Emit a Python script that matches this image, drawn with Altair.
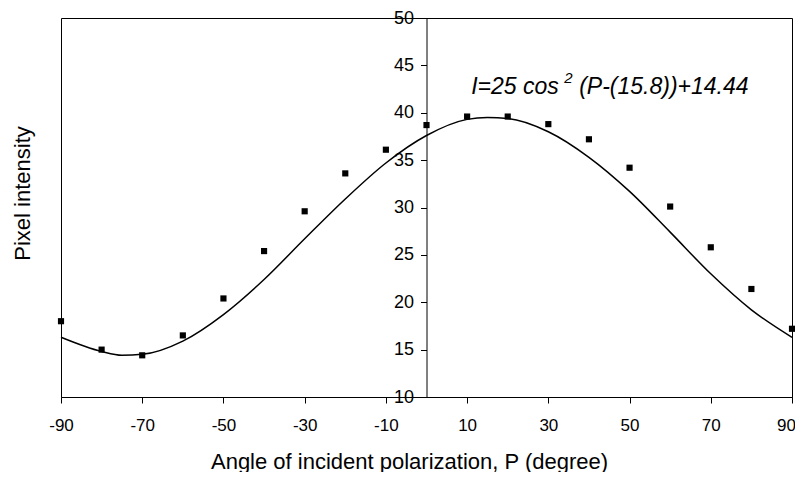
import altair as alt
import pandas as pd

# measured points (angle, pixel intensity)
angles = [-90, -80, -70, -60, -50, -40, -30, -20, -10, 0, 10, 20, 30, 40, 50, 60, 70, 80, 90]
intensity = [18.0, 15.0, 14.4, 16.5, 20.4, 25.4, 29.6, 33.6, 36.1, 38.7, 39.6, 39.6, 38.8, 37.2, 34.2, 30.1, 25.8, 21.4, 17.2]

# fitted curve
fit_angles = [-90, -80, -75, -70, -60, -50, -40, -30, -20, -10, 0, 10, 15, 20, 30, 40, 50, 60, 70, 80, 90]
fit_values = [16.3, 14.8, 14.4, 14.5, 15.9, 18.7, 22.4, 26.7, 30.9, 34.7, 37.6, 39.3, 39.5, 39.4, 38.0, 35.3, 31.7, 27.4, 23.0, 19.2, 16.3]

x_ticks = [-90, -70, -50, -30, -10, 10, 30, 50, 70, 90]
y_ticks = [10, 15, 20, 25, 30, 35, 40, 45, 50]

eq_parts = ["I=25 cos", "2", "(P-(15.8))+14.44"]
eq_x, eq_y = 11, 41.95

pts = pd.DataFrame({"P": angles, "I": intensity})
fit = pd.DataFrame({"P": fit_angles, "I": fit_values})

FONT = "Liberation Sans"

xscale = alt.Scale(domain=[-90, 90], nice=False, zero=False)
yscale = alt.Scale(domain=[10, 50], nice=False, zero=False)

xaxis = alt.Axis(
    values=x_ticks, title="Angle of incident polarization, P (degree)",
    labelExpr="'' + datum.value",
    labelOffset={"condition": {"test": "datum.value == 90", "value": -6}, "value": 0},
    grid=False, tickSize=6, labelFontSize=17, labelPadding=14, labelFlush=False,
    labelBound=False,
    titleFontSize=22, titleFontWeight="normal", titleX=348, titleY=71,
    titleBaseline="alphabetic", titleAlign="center",
    domainColor="black", tickColor="black", labelColor="black", titleColor="black",
    labelFont=FONT, titleFont=FONT,
)
yaxis = alt.Axis(
    values=y_ticks, title="Pixel intensity", orient="left", offset=-365.5,
    labelExpr="'' + datum.value",
    grid=False, tickSize=6, labelFontSize=18, labelPadding=7, labelFlush=False,
    titleFontSize=22, titleFontWeight="normal", titleX=-404, titleY=175,
    titleAngle=270, titleBaseline="middle", titleAlign="center",
    domainColor="black", tickColor="black", labelColor="black", titleColor="black",
    labelFont=FONT, titleFont=FONT,
)

line = alt.Chart(fit).mark_line(color="black", strokeWidth=1.5, interpolate="monotone").encode(
    x=alt.X("P:Q", scale=xscale, axis=xaxis),
    y=alt.Y("I:Q", scale=yscale, axis=yaxis),
)
points = alt.Chart(pts).mark_point(shape="square", filled=True, color="black", size=38, opacity=1).encode(
    x=alt.X("P:Q", scale=xscale),
    y=alt.Y("I:Q", scale=yscale),
)

def eq_text(part, size, dx, dy):
    return alt.Chart(pd.DataFrame({"t": [part]})).mark_text(
        align="left", baseline="alphabetic", fontSize=size, fontStyle="italic",
        font=FONT, color="black", dx=dx, dy=dy
    ).encode(x=alt.datum(eq_x), y=alt.datum(eq_y), text="t:N")

t1 = eq_text(eq_parts[0], 23, 0, 0)
t2 = eq_text(eq_parts[1], 15, 93, -11)
t3 = eq_text(eq_parts[2], 23, 108, 0)

chart = alt.layer(line, points, t1, t2, t3).properties(
    width=731, height=379,
    autosize=alt.AutoSizeParams(type="none"),
    padding={"left": 53, "top": 10, "right": 3, "bottom": 75},
).configure_view(stroke="black", strokeWidth=1)

chart.save("out.html", embed_options={"renderer": "svg", "actions": False})
